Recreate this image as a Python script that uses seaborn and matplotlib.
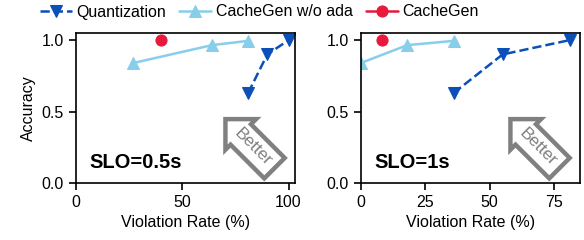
import numpy as np
import pandas as pd
import matplotlib
matplotlib.use("Agg")
import matplotlib.pyplot as plt
import seaborn as sns

# dados
quant_x_05 = [81, 90, 100]
quant_y_05 = [0.63, 0.90, 1.0]
noada_x_05 = [27, 64, 81]
noada_y_05 = [0.84, 0.965, 0.995]
cg_x_05 = [40]
cg_y_05 = [1.0]

quant_x_1 = [36, 55, 81]
quant_y_1 = [0.63, 0.90, 1.0]
noada_x_1 = [0, 18, 36]
noada_y_1 = [0.84, 0.965, 0.995]
cg_x_1 = [8]
cg_y_1 = [1.0]

slo_labels = ["SLO=0.5s", "SLO=1s"]
xlims = [(0, 103), (0, 85)]
xticks = [[0, 50, 100], [0, 25, 50, 75]]

c_quant = "#0B4FB8"
c_noada = "#87CEEB"
c_cg = "#E8193C"

sns.set_style("ticks")
plt.rcParams['font.family'] = ['Liberation Sans', 'DejaVu Sans']
plt.rcParams['font.size'] = 11.5
plt.rcParams['text.color'] = 'black'
plt.rcParams['axes.labelcolor'] = 'black'
plt.rcParams['xtick.color'] = 'black'
plt.rcParams['ytick.color'] = 'black'

fig = plt.figure(figsize=(5.84, 2.4), dpi=100)
ax1 = fig.add_axes([0.130, 0.2375, 0.375, 0.625])
ax2 = fig.add_axes([0.618, 0.2375, 0.375, 0.625])

dados = [
    (quant_x_05, quant_y_05, noada_x_05, noada_y_05, cg_x_05, cg_y_05),
    (quant_x_1, quant_y_1, noada_x_1, noada_y_1, cg_x_1, cg_y_1),
]

for i, (ax, d) in enumerate(zip([ax1, ax2], dados)):
    qx, qy, nx, ny, cx, cy = d
    sns.lineplot(x=qx, y=qy, ax=ax, color=c_quant, marker="v", markersize=9,
                 linestyle="--", linewidth=1.8, sort=False, label="Quantization",
                 markeredgecolor=c_quant)
    sns.lineplot(x=nx, y=ny, ax=ax, color=c_noada, marker="^", markersize=9,
                 linewidth=1.8, sort=False, label="CacheGen w/o ada",
                 markeredgecolor=c_noada)
    sns.lineplot(x=cx, y=cy, ax=ax, color=c_cg, marker="o", markersize=8,
                 linewidth=1.8, sort=False, label="CacheGen",
                 markeredgecolor=c_cg)
    ax.set_xlim(*xlims[i])
    ax.set_ylim(0, 1.05)
    ax.set_xticks(xticks[i])
    ax.set_yticks([0.0, 0.5, 1.0])
    ax.set_xlabel("Violation Rate (%)", fontsize=11.5)
    ax.tick_params(labelsize=11.5, width=1.2, length=5, color="black")
    for s in ax.spines.values():
        s.set_linewidth(1.2)
        s.set_color("black")
    ax.text(0.06, 0.1, slo_labels[i], transform=ax.transAxes,
            fontsize=14.5, fontweight="bold", va="baseline", ha="left")
    ax.text(0.81, 0.24, "Better", transform=ax.transAxes, rotation=-45,
            ha="center", va="center", fontsize=12.5, color="#808080",
            bbox=dict(boxstyle="larrow,pad=0.4", fc="white", ec="#808080", lw=3.2))
    ax.get_legend().remove()

ax1.set_ylabel("Accuracy", fontsize=11.5)
ax2.set_ylabel("")

handles, labels = ax1.get_legend_handles_labels()
fig.legend(handles, labels, loc="center", bbox_to_anchor=(0.444, 0.95), ncol=3,
           frameon=False, fontsize=11.5, handlelength=2, handletextpad=0.3,
           columnspacing=0.8)

fig.savefig("out.png", dpi=100)
